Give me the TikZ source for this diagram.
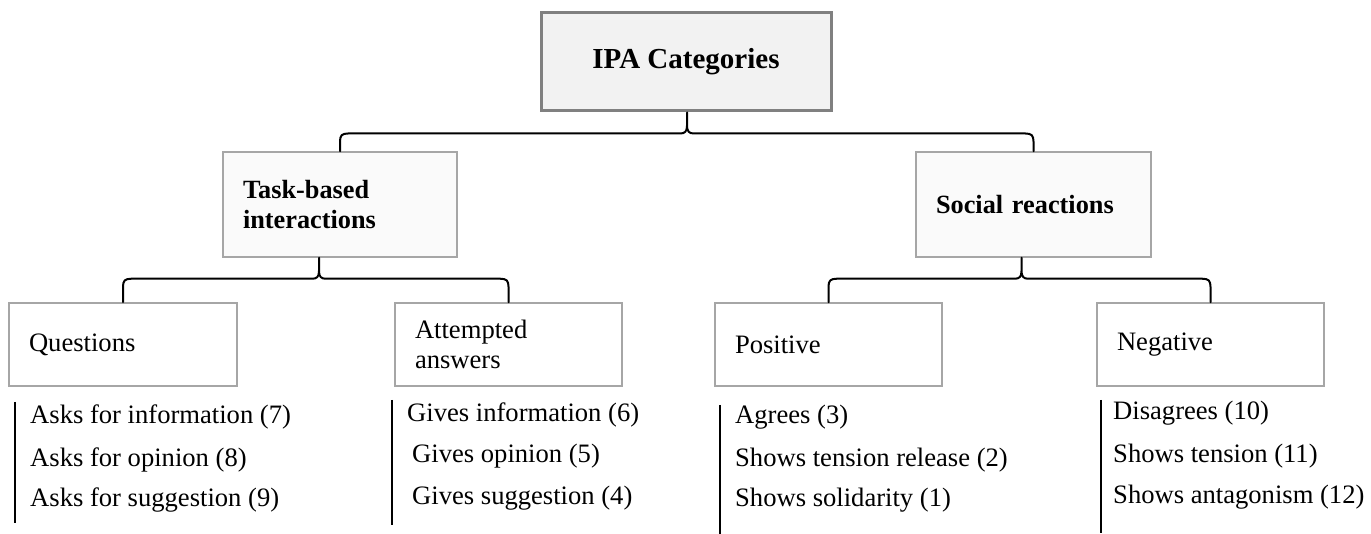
\documentclass[tikz,border=0pt]{standalone}
\usepackage{fontspec}
\setmainfont{Liberation Serif}
\usetikzlibrary{calc}

\tikzset{
  txt/.style={font=\fontsize{26.6}{30}\selectfont},
  catbox/.style={draw=black!35, line width=1.5pt, inner xsep=20pt, inner ysep=0pt,
    align=left, txt},
  topbox/.style={draw=black!50, fill=black!5, line width=3pt, inner sep=0pt,
    align=center, font=\fontsize{29}{33}\selectfont\bfseries},
  midbox/.style={catbox, fill=black!2, font=\fontsize{26.3}{30}\selectfont\bfseries},
  item/.style={anchor=base west, inner sep=0pt, txt},
  listbar/.style={line width=2.5pt},
  brace/.style={line width=2pt, line cap=round, line join=round},
}

% curly connector: from the bottom of a parent to the tops of two children
\newcommand{\drawbrace}[3]{%
  \draw[brace] let \p1=(#1), \p2=(#2.north), \p3=(#3.north), \n1={\y1-21pt} in
    (\x2,\y2) -- (\x2,\n1-8pt) .. controls (\x2,\n1-2pt) and (\x2+2pt,\n1) .. (\x2+8pt,\n1)
    -- (\x1-7pt,\n1) .. controls (\x1-2pt,\n1) and (\x1,\n1+2pt) .. (\x1,\n1+8pt) -- (\x1,\y1)
    (\x3,\y3) -- (\x3,\n1-8pt) .. controls (\x3,\n1-2pt) and (\x3-2pt,\n1) .. (\x3-8pt,\n1)
    -- (\x1+7pt,\n1) .. controls (\x1+2pt,\n1) and (\x1,\n1+2pt) .. (\x1,\n1+8pt);}

\begin{document}
\begin{tikzpicture}[x=1pt, y=-1pt]
\useasboundingbox (0,0) rectangle (1371,534);

% category boxes
\node[topbox, minimum width=290pt, minimum height=98pt] (ipa) at (686,62) {IPA Categories};

\node[midbox, text width=194pt, minimum height=105pt] (task) at (340,204.5) {Task-based\\interactions};
\node[midbox, text width=195pt, minimum height=105pt] (social) at (1033.5,204.5) {Social reactions};

\node[catbox, text width=188pt, minimum height=83pt] (quest) at (123,344.5) {Questions};
\node[catbox, text width=187pt, minimum height=83pt] (answ) at (508.5,344.5) {Attempted\\answers};
\node[catbox, text width=187pt, minimum height=83pt] (pos) at (828.5,344.5) {Positive};
\node[catbox, text width=187pt, minimum height=83pt] (neg) at (1210.5,344.5) {Negative};

% cusps of the connectors
\coordinate (ipacusp) at ([xshift=1pt]ipa.south);
\coordinate (taskcusp) at ([xshift=-21pt]task.south);
\coordinate (socialcusp) at ([xshift=-12pt]social.south);

\drawbrace{ipacusp}{task}{social}
\drawbrace{taskcusp}{quest}{answ}
\drawbrace{socialcusp}{pos}{neg}

% behaviour lists
\coordinate (qa) at (15,402);   \coordinate (qb) at (15,523);
\coordinate (aa) at (392,400);  \coordinate (ab) at (392,525);
\coordinate (pa) at (720,405);  \coordinate (pb) at (720,534);
\coordinate (na) at (1101,400); \coordinate (nb) at (1101,533);
\draw[listbar] (qa) -- (qb);
\draw[listbar] (aa) -- (ab);
\draw[listbar] (pa) -- (pb);
\draw[listbar] (na) -- (nb);

\node[item] (q1) at (30,424) {Asks for information (7)};
\node[item] (q2) at (30,466) {Asks for opinion (8)};
\node[item] (q3) at (30,506) {Asks for suggestion (9)};

\node[item] (a1) at (407,421) {Gives information (6)};
\node[item] (a2) at (412,462) {Gives opinion (5)};
\node[item] (a3) at (412,504) {Gives suggestion (4)};

\node[item] (p1) at (735,424) {Agrees (3)};
\node[item] (p2) at (735,466) {Shows tension release (2)};
\node[item] (p3) at (735,506) {Shows solidarity (1)};

\node[item] (n1) at (1113,420) {Disagrees (10)};
\node[item] (n2) at (1113,462) {Shows tension (11)};
\node[item] (n3) at (1113,503) {Shows antagonism (12)};
\end{tikzpicture}
\end{document}
